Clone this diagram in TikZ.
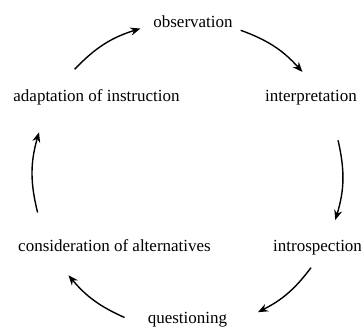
\documentclass[tikz,border=0pt]{standalone}
\usepackage{fontspec}
\setmainfont{Liberation Serif}
\usetikzlibrary{arrows.meta}
\tikzset{
  stage/.style={inner sep=0pt, anchor=base, font=\fontsize{17}{20}\selectfont},
  cyc/.style={line width=1.4pt, -{Stealth[length=10pt,width=8pt]}}
}
\begin{document}
\begin{tikzpicture}[x=1pt,y=1pt]
			%%%%% START %%%%%
			\useasboundingbox (0,0) rectangle (361,332);
			
			\node[stage] (obs) at (193, 304) {observation};
			\node[stage] (interp) at (311, 230) {interpretation};
			\node[stage, anchor=base west] (intro) at (273, 81) {introspection};
			\node[stage] (quest) at (187.5, 9) {questioning};
			\node[stage] (consid) at (114.5, 81) {consideration of alternatives};
			\node[stage] (adapt) at (96.5, 230) {adaptation of instruction};
			
			\coordinate (c) at (188, 157);
			\path (c) ++(70:154) coordinate (a1s) (c) ++(42:154) coordinate (a1e);
			\path (c) ++(13:154) coordinate (a2s) (c) ++(-17:154) coordinate (a2e);
			\path (c) ++(-37:154) coordinate (a3s) (c) ++(-63:154) coordinate (a3e);
			\path (c) ++(-114:156) coordinate (a4s) (c) ++(-140:156) coordinate (a4e);
			\path (c) ++(194:155) coordinate (a5s) (c) ++(164:155) coordinate (a5e);
			\path (c) ++(137:155) coordinate (a6s) (c) ++(108:154) coordinate (a6e);
			
			\draw[cyc] (a1s) to[bend left=14] (a1e);
			\draw[cyc] (a2s) to[bend left=15] (a2e);
			\draw[cyc] (a3s) to[bend left=13] (a3e);
			\draw[cyc] (a4s) to[bend left=13] (a4e);
			\draw[cyc] (a5s) to[bend left=15] (a5e);
			\draw[cyc] (a6s) to[bend left=14.5] (a6e);
			
			%%%%% END %%%%%
\end{tikzpicture}
\end{document}
